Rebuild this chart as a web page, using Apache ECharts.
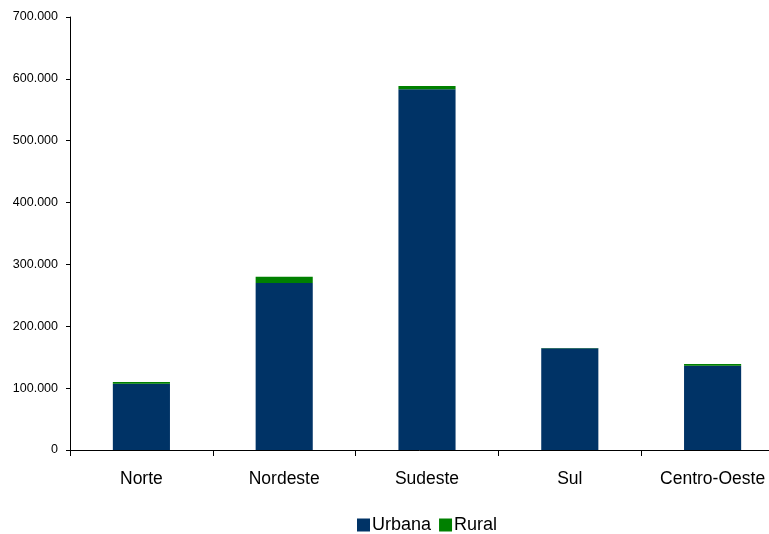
<!DOCTYPE html>
<html><head><meta charset="utf-8">
<script src="https://cdn.jsdelivr.net/npm/echarts@6/dist/echarts.min.js"></script>
<style>html,body{margin:0;padding:0;background:#fff;}#c{width:769px;height:534px;}</style>
</head><body><div id="c"></div>
<script>
const categories = ['Norte', 'Nordeste', 'Sudeste', 'Sul', 'Centro-Oeste'];
const urbana = [107000, 269800, 583200, 164500, 136200];
const rural = [2800, 10200, 5300, 500, 2700];
const yTicks = [0, 100000, 200000, 300000, 400000, 500000, 600000, 700000];

function fmt(v){ return v === 0 ? '0' : String(v).replace(/\B(?=(\d{3})+(?!\d))/g, '.'); }

const chart = echarts.init(document.getElementById('c'), null, {renderer:'canvas'});
chart.setOption({
  animation: false,
  textStyle: {fontFamily: 'Liberation Sans, Arial, sans-serif'},
  grid: {left: 70, width: 714, top: 17, height: 433, containLabel: false, outerBoundsMode: 'none'},
  legend: {
    top: 511, left: 352,
    itemWidth: 13, itemHeight: 13, itemGap: 8,
    icon: 'rect',
    textStyle: {fontSize: 18, color: '#000', fontFamily: 'Liberation Sans, Arial, sans-serif', padding:[0,0,0,-3]},
    data: ['Urbana', 'Rural']
  },
  xAxis: {
    type: 'category', data: categories,
    axisLine: {lineStyle: {color: '#000', width: 1}},
    axisTick: {show: true, alignWithLabel: false, length: 6, lineStyle: {color: '#000'}},
    axisLabel: {fontSize: 17.5, color: '#000', margin: 20, fontFamily: 'Liberation Sans, Arial, sans-serif'}
  },
  yAxis: {
    type: 'value', min: 0, max: 700000, interval: 100000,
    axisLine: {show: true, lineStyle: {color: '#000', width: 1}},
    axisTick: {show: true, length: 4, lineStyle: {color: '#000'}},
    splitLine: {show: false},
    axisLabel: {fontSize: 12.5, color: '#000', margin: 12, fontFamily: 'Liberation Sans, Arial, sans-serif',
      formatter: v => yTicks.includes(v) ? fmt(v) : ''}
  },
  series: [
    {name: 'Urbana', type: 'bar', stack: 't', data: urbana, barWidth: '40%', itemStyle: {color: '#003366'}},
    {name: 'Rural', type: 'bar', stack: 't', data: rural, barWidth: '40%', itemStyle: {color: '#008000'}}
  ]
});
</script></body></html>
